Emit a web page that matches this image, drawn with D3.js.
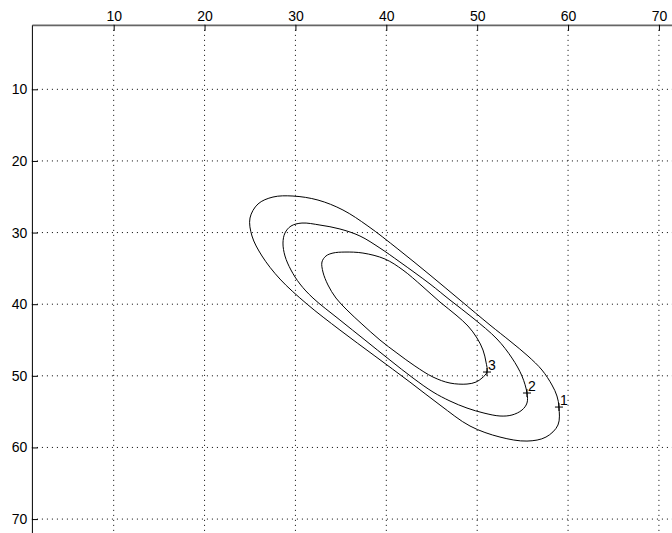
<!DOCTYPE html>
<html>
<head>
<meta charset="utf-8">
<script src="https://cdn.jsdelivr.net/npm/d3@7"></script>
<style>
  body { margin: 0; background: #fff; }
  svg { display: block; }
  text { font-family: "Liberation Sans", Arial, sans-serif; }
</style>
</head>
<body>
<script>
// contour lines, [x, y] in data units (y grows downward like an image)
var contour1 = [
    [59.00, 54.36], [58.89, 56.87], [57.57, 58.55], [55.48, 59.11], [52.51, 58.55],
    [49.21, 57.01], [45.91, 54.08], [42.60, 50.87], [38.75, 47.24], [34.90, 43.61],
    [31.27, 39.98], [28.30, 36.49], [26.32, 33.27], [25.22, 30.48], [25.00, 27.97],
    [25.88, 26.01], [27.53, 25.04], [29.73, 24.90], [32.48, 25.46], [35.23, 26.85],
    [37.98, 29.09], [41.28, 32.30], [44.81, 35.93], [48.11, 39.42], [51.41, 42.91],
    [53.61, 45.14], [55.59, 47.24], [57.13, 49.19], [58.23, 51.28], [58.78, 52.82]
];
var contour2 = [
    [55.48, 52.40], [55.48, 53.80], [54.93, 54.78], [53.83, 55.47], [52.51, 55.61],
    [50.75, 55.20], [48.88, 54.50], [47.01, 53.52], [45.14, 52.26], [42.94, 50.31],
    [40.40, 47.80], [37.65, 45.00], [34.90, 42.21], [31.93, 39.14], [30.50, 37.18],
    [29.51, 35.23], [28.85, 33.27], [28.63, 31.46], [28.85, 30.06], [29.51, 29.09],
    [30.72, 28.67], [32.70, 28.95], [34.90, 29.50], [37.10, 30.48], [39.30, 32.16],
    [41.50, 34.11], [44.81, 37.18], [47.01, 39.42], [49.54, 41.93], [52.18, 44.86],
    [53.83, 47.52], [54.93, 50.03]
];
var contour3 = [
    [51.08, 49.47], [50.53, 50.31], [49.87, 50.87], [48.88, 51.15], [47.01, 51.01],
    [45.14, 50.17], [43.15, 48.63], [41.17, 46.82], [39.30, 45.00], [37.32, 42.77],
    [35.67, 40.81], [34.46, 39.14], [33.58, 37.32], [33.03, 35.51], [32.92, 34.11],
    [33.36, 33.27], [34.13, 32.86], [35.45, 32.72], [37.43, 32.86], [39.85, 33.69],
    [41.83, 35.23], [43.93, 37.46], [45.91, 39.70], [47.67, 41.51], [48.99, 43.05],
    [49.98, 44.72], [50.64, 46.40], [50.97, 48.08]
];
var contourLabels = ["1", "2", "3"];
var xTicks = [10, 20, 30, 40, 50, 60, 70];
var yTicks = [10, 20, 30, 40, 50, 60, 70];

var width = 672,
    height = 533;

var x = d3.scaleLinear().domain([1, 72]).range([31.9, 677.1]);
var y = d3.scaleLinear().domain([1, 72]).range([24.85, 533.4]);

var svg = d3.select("body")
    .append("svg")
    .attr("width", width)
    .attr("height", height);

// dotted grid
svg.selectAll("line.gx")
    .data(xTicks)
    .enter()
    .append("line")
    .attr("class", "gx")
    .attr("x1", function (d) { return x(d); })
    .attr("x2", function (d) { return x(d); })
    .attr("y1", y(1))
    .attr("y2", y(72))
    .style("stroke", "#000")
    .style("stroke-width", 1)
    .style("stroke-dasharray", "1,4");

svg.selectAll("line.gy")
    .data(yTicks)
    .enter()
    .append("line")
    .attr("class", "gy")
    .attr("y1", function (d) { return y(d); })
    .attr("y2", function (d) { return y(d); })
    .attr("x1", x(1))
    .attr("x2", x(72))
    .style("stroke", "#000")
    .style("stroke-width", 1)
    .style("stroke-dasharray", "1,4");

// axes: x on top, y reversed on the left, ticks pointing in
var xAxis = svg.append("g")
    .attr("transform", "translate(0," + y(1) + ")")
    .call(d3.axisTop(x).tickValues(xTicks).tickSizeInner(-6).tickSizeOuter(0).tickPadding(4));

var yAxis = svg.append("g")
    .attr("transform", "translate(" + x(1) + ",0)")
    .call(d3.axisLeft(y).tickValues(yTicks).tickSizeInner(-6).tickSizeOuter(0).tickPadding(4.5));

xAxis.select(".domain").style("stroke", "#666").style("stroke-width", 1.6);
yAxis.select(".domain").style("stroke", "#000").style("stroke-width", 1);
svg.selectAll(".tick line").style("stroke", "#000");
svg.selectAll(".tick text")
    .style("font-family", "Liberation Sans, Arial, sans-serif")
    .style("font-size", "14px")
    .attr("fill", "#000");

// contours
var line = d3.line()
    .x(function (d) { return x(d[0]); })
    .y(function (d) { return y(d[1]); })
    .curve(d3.curveCatmullRomClosed.alpha(0.5));

var contours = [contour1, contour2, contour3];

svg.selectAll("path.contour")
    .data(contours)
    .enter()
    .append("path")
    .attr("class", "contour")
    .attr("d", line)
    .style("fill", "none")
    .style("stroke", "#000")
    .style("stroke-width", 1);

// "+" markers and level numbers at the first point of each line
var marks = svg.selectAll("g.mark")
    .data(contours)
    .enter()
    .append("g")
    .attr("class", "mark")
    .attr("transform", function (d) { return "translate(" + x(d[0][0]) + "," + y(d[0][1]) + ")"; });

marks.append("path")
    .attr("d", "M-4,0H4M0,-4V4")
    .style("stroke", "#000")
    .style("stroke-width", 1);

marks.append("text")
    .attr("x", 1)
    .attr("y", -2)
    .style("font-size", "14px")
    .attr("fill", "#000")
    .text(function (d, i) { return contourLabels[i]; });
</script>
</body>
</html>
